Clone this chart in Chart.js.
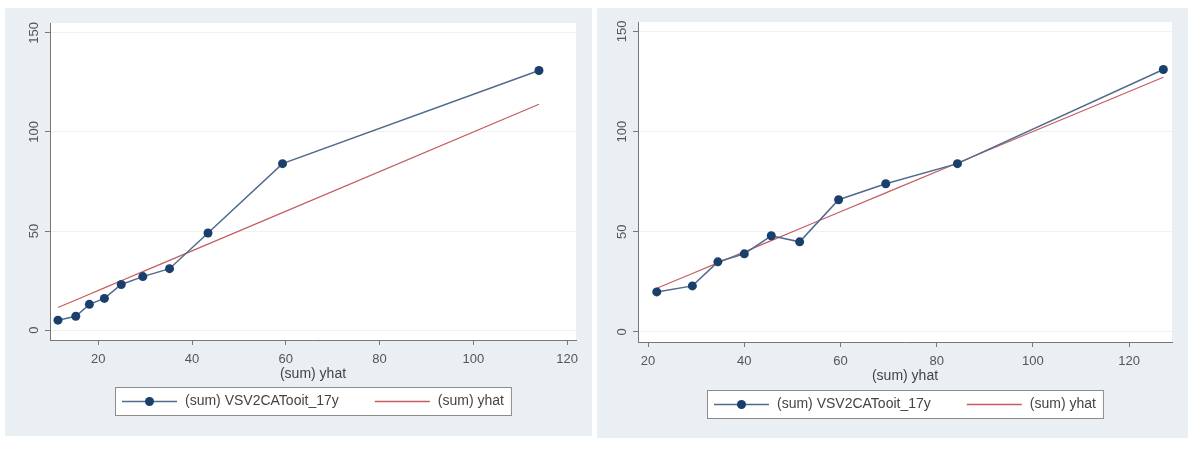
<!DOCTYPE html>
<html>
<head>
<meta charset="utf-8">
<script src="https://cdn.jsdelivr.net/npm/chart.js@4"></script>
<style>
  body { margin: 0; background: #ffffff; width: 1194px; height: 452px; position: relative; overflow: hidden; }
  .panel { position: absolute; background: #e9eff2; }
  .panel canvas { display: block; }
</style>
</head>
<body>
<div class="panel" style="left:5px;top:8px;width:587px;height:428px"><canvas id="left-chart" width="587" height="428"></canvas></div>
<div class="panel" style="left:597px;top:8px;width:591px;height:430px"><canvas id="right-chart" width="591" height="430"></canvas></div>
<script>
// tick labels shared by both graphs
const xTicks = [20, 40, 60, 80, 100, 120];
const yTicks = [0, 50, 100, 150];

// left graph: predicted (x) vs observed sums
const leftYhat = [11.4, 15.2, 18.1, 21.3, 24.9, 29.5, 35.2, 43.4, 59.3, 114.0];
const leftObserved = [5, 7, 13, 16, 23, 27, 31, 49, 84, 131];

// right graph
const rightYhat = [21.8, 29.2, 34.5, 40.0, 45.6, 51.5, 59.6, 69.4, 84.3, 127.1];
const rightObserved = [20, 23, 35, 39, 48, 45, 66, 74, 84, 131];

const seriesLabels = ['(sum) VSV2CATooit_17y', '(sum) yhat'];
const xTitle = '(sum) yhat';

const navy = '#1b3f6b';
const navyLine = '#4f6b8b';
const maroon = '#c45c61';
const fontName = '"Liberation Sans", Arial, sans-serif';

// white plot region, rotated y labels and the boxed legend, stata style
const stataLook = {
    id: 'stataLook',
    beforeDraw(chart) {
        const a = chart.chartArea;
        const ctx = chart.ctx;
        ctx.save();
        ctx.fillStyle = '#ffffff';
        ctx.fillRect(a.left, a.top, a.right - a.left, a.bottom - a.top);
        ctx.restore();
    },
    afterDraw(chart, args, opts) {
        const ctx = chart.ctx;
        const a = chart.chartArea;
        const yScale = chart.scales.y;

        //y tick labels read bottom to top
        ctx.save();
        ctx.font = '13px ' + fontName;
        ctx.fillStyle = '#555555';
        ctx.textAlign = 'center';
        ctx.textBaseline = 'middle';
        yTicks.forEach(v => {
            ctx.save();
            ctx.translate(a.left - 16, yScale.getPixelForValue(v));
            ctx.rotate(-Math.PI / 2);
            ctx.fillText(String(v), 0, 0);
            ctx.restore();
        });
        ctx.restore();

        //legend box under the axis title
        const ds = chart.data.datasets;
        ctx.save();
        ctx.font = '14px ' + fontName;
        const w1 = ctx.measureText(ds[0].label).width;
        const w2 = ctx.measureText(ds[1].label).width;
        const lineLen = 55, gap = 8, spacing = 36, pad = 7, boxH = 28;
        const boxW = pad * 2 + lineLen * 2 + gap * 2 + w1 + w2 + spacing;
        const bx = Math.round((a.left + a.right) / 2 - boxW / 2);
        const by = opts.legendTop;
        ctx.fillStyle = '#ffffff';
        ctx.fillRect(bx, by, boxW, boxH);
        ctx.strokeStyle = '#8c8c8c';
        ctx.lineWidth = 1;
        ctx.strokeRect(bx + 0.5, by + 0.5, boxW, boxH);

        const my = by + boxH / 2 + 0.5;
        let x = bx + pad;
        ctx.strokeStyle = ds[0].borderColor;
        ctx.lineWidth = ds[0].borderWidth;
        ctx.beginPath();
        ctx.moveTo(x, my);
        ctx.lineTo(x + lineLen, my);
        ctx.stroke();
        ctx.fillStyle = ds[0].pointBackgroundColor;
        ctx.beginPath();
        ctx.arc(x + lineLen / 2, my, ds[0].pointRadius, 0, Math.PI * 2);
        ctx.fill();
        ctx.fillStyle = '#444444';
        ctx.textBaseline = 'middle';
        ctx.fillText(ds[0].label, x + lineLen + gap, my);

        x += lineLen + gap + w1 + spacing;
        ctx.strokeStyle = ds[1].borderColor;
        ctx.lineWidth = 1.5;
        ctx.beginPath();
        ctx.moveTo(x, my);
        ctx.lineTo(x + lineLen, my);
        ctx.stroke();
        ctx.fillStyle = '#444444';
        ctx.fillText(ds[1].label, x + lineLen + gap, my);
        ctx.restore();
    }
};

function makeChart(canvasId, yhat, observed, box) {
    const canvas = document.querySelector(canvasId);
    new Chart(canvas.getContext('2d'), {
        type: 'scatter',
        data: {
            datasets: [{
                label: seriesLabels[0],
                data: yhat.map((v, i) => ({ x: v, y: observed[i] })),
                showLine: true,
                borderColor: navyLine,
                borderWidth: 1.5,
                pointRadius: 4.5,
                pointBackgroundColor: navy,
                pointBorderWidth: 0,
                order: 1
            }, {
                //fitted line, yhat against itself
                label: seriesLabels[1],
                data: yhat.map(v => ({ x: v, y: v })),
                showLine: true,
                borderColor: maroon,
                borderWidth: 1.2,
                pointRadius: 0,
                order: 2
            }]
        },
        options: {
            responsive: false,
            animation: false,
            layout: { padding: { left: 0, top: box.top, right: box.right, bottom: 0 } },
            plugins: {
                legend: { display: false },
                tooltip: { enabled: false },
                stataLook: { legendTop: box.legendTop }
            },
            scales: {
                x: {
                    type: 'linear',
                    min: box.xMin,
                    max: box.xMax,
                    afterBuildTicks: scale => { scale.ticks = xTicks.map(v => ({ value: v })); },
                    afterFit: scale => { scale.height = box.xHeight; },
                    grid: { drawOnChartArea: false, color: '#777777', tickLength: 5 },
                    border: { color: '#777777', width: 1 },
                    ticks: { color: '#555555', font: { family: fontName, size: 13 }, padding: 7, maxRotation: 0 },
                    title: {
                        display: true,
                        text: xTitle,
                        color: '#444444',
                        font: { family: fontName, size: 14 },
                        padding: { top: 0, bottom: 53 }
                    }
                },
                y: {
                    type: 'linear',
                    min: box.yMin,
                    max: box.yMax,
                    afterBuildTicks: scale => { scale.ticks = yTicks.map(v => ({ value: v })); },
                    afterFit: scale => { scale.width = box.yWidth; },
                    grid: { color: '#eef2f4', tickColor: '#777777', tickLength: 5 },
                    border: { color: '#777777', width: 1 },
                    ticks: { display: false }
                }
            }
        },
        plugins: [stataLook]
    });
}

makeChart('#left-chart', leftYhat, leftObserved, {
    xMin: 9.7, xMax: 121.9, yMin: -5, yMax: 155,
    top: 15, right: 16, yWidth: 45, xHeight: 96, legendTop: 379
});
makeChart('#right-chart', rightYhat, rightObserved, {
    xMin: 17.9, xMax: 128.9, yMin: -5, yMax: 154.7,
    top: 14, right: 16, yWidth: 41, xHeight: 96, legendTop: 382
});
</script>
</body>
</html>
